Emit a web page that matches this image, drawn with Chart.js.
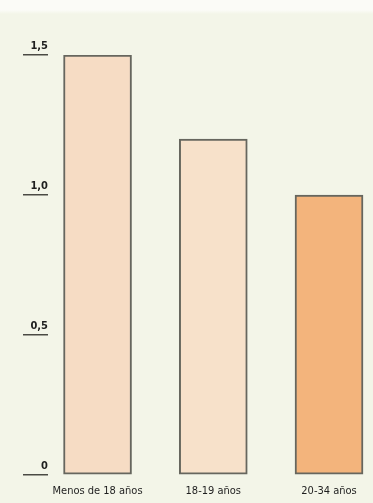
<!DOCTYPE html>
<html>
<head>
<meta charset="utf-8">
<script src="https://cdn.jsdelivr.net/npm/chart.js@4"></script>
<style>
  html, body { margin: 0; padding: 0; }
  body { width: 373px; height: 503px; background: linear-gradient(#fbfbf7 0, #fbfbf7 10px, #f3f5e8 14px, #f3f5e8 100%); }
  #wrap { position: relative; width: 373px; height: 503px; }
</style>
</head>
<body>
<div id="wrap"><canvas id="ageChart"></canvas></div>
<script>
// Age groups and their values
const categories = ['Menos de 18 años', '18-19 años', '20-34 años'];
const values = [1.5, 1.2, 1.0];
const barColors = ['#f6dcc4', '#f7e1ca', '#f3b47c'];
const yTicks = [0, 0.5, 1.0, 1.5];

const fontFamily = '"DejaVu Sans Condensed", "Liberation Sans Narrow", "Arial Narrow", sans-serif';

const ctx = document.getElementById('ageChart').getContext('2d');
const ageChart = new Chart(ctx, {
    type: 'bar',
    data: {
        datasets: [{
            data: values.map((v, i) => ({ x: i, y: v })),
            backgroundColor: barColors,
            borderColor: '#66665e',
            borderWidth: 2,
            borderSkipped: false,
            barThickness: 68
        }]
    },
    options: {
        responsive: true,
        maintainAspectRatio: false,
        animation: false,
        layout: { padding: { top: 55, bottom: 0, left: 0, right: 0 } },
        plugins: {
            legend: { display: false },
            tooltip: { enabled: false }
        },
        scales: {
            x: {
                type: 'linear',
                offset: false,
                min: -0.428,
                max: 2.38,
                grid: { display: false, drawTicks: false },
                border: { display: false },
                afterBuildTicks: (scale) => {
                    scale.ticks = categories.map((c, i) => ({ value: i }));
                },
                afterFit: (scale) => { scale.height = 28; },
                ticks: {
                    autoSkip: false,
                    maxRotation: 0,
                    padding: 10,
                    color: '#1e1e1e',
                    font: { family: fontFamily, size: 11 },
                    callback: (v) => categories[v]
                }
            },
            y: {
                min: 0,
                max: 1.5,
                afterBuildTicks: (scale) => {
                    scale.ticks = yTicks.map(v => ({ value: v }));
                },
                afterFit: (scale) => { scale.width = 48; },
                grid: {
                    drawOnChartArea: false,
                    tickLength: 25,
                    color: '#4a4a44',
                    lineWidth: 1.5
                },
                border: { display: false },
                ticks: {
                    padding: -25,
                    labelOffset: -9,
                    color: '#1e1e1e',
                    font: { family: fontFamily, size: 11, weight: 'bold' },
                    callback: (v) => v === 0 ? '0' : v.toFixed(1).replace('.', ',')
                }
            }
        }
    }
});
</script>
</body>
</html>
